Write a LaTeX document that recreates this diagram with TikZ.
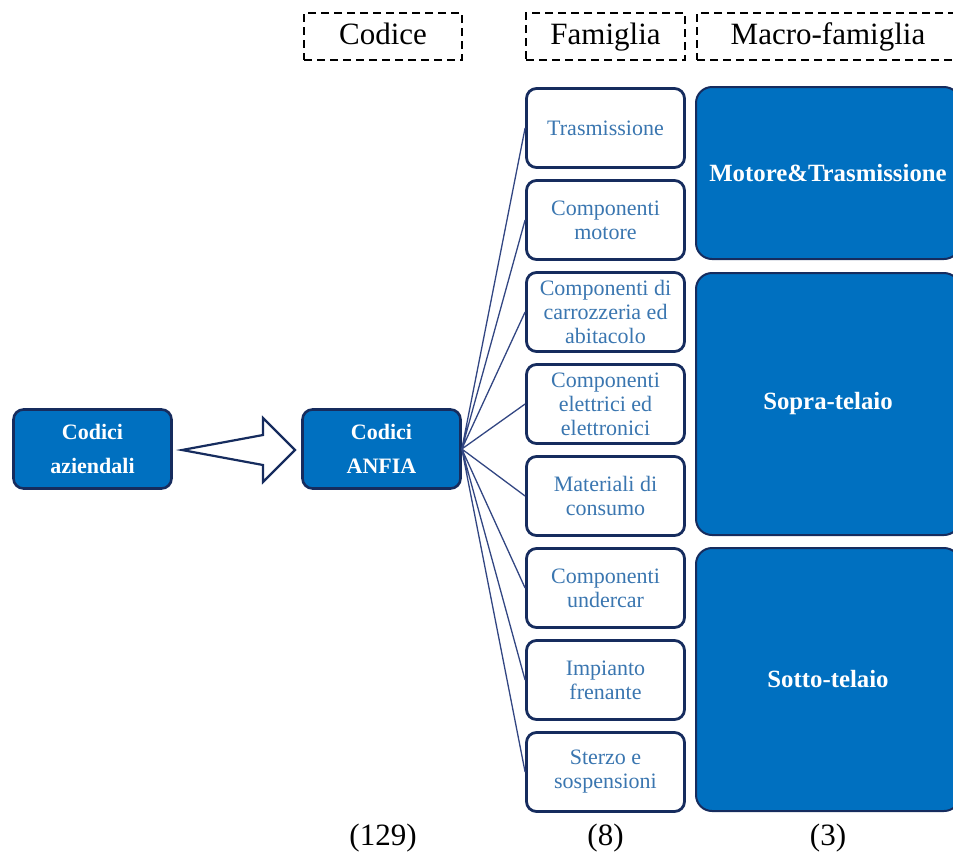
\documentclass[tikz,border=0pt]{standalone}
\usepackage{fontspec}
\setmainfont{Liberation Serif}
\usetikzlibrary{chains,positioning}
\definecolor{anfiablue}{RGB}{0,112,192}
\definecolor{anfianavy}{RGB}{22,44,94}
\definecolor{famtext}{RGB}{58,118,176}
\definecolor{anfialink}{RGB}{50,70,130}
\tikzset{
  famiglia/.style={
    rectangle,
    rounded corners=5pt,
    fill=white,
    draw=anfianavy, line width=1.4pt,
    text=famtext,
    font=\fontsize{11}{12}\selectfont,
    align=center,
    minimum width=79pt,
    minimum height=39.5pt,
    inner sep=1pt,
    on chain},
  codici/.style={
    rectangle,
    rounded corners=5pt,
    fill=anfiablue,
    draw=anfianavy, line width=1.3pt,
    text=white,
    font=\fontsize{11}{17}\selectfont\bfseries,
    align=center,
    minimum width=79pt,
    minimum height=39.5pt},
  macro/.style={
    rectangle,
    rounded corners=8pt,
    fill=anfiablue,
    draw=anfianavy, line width=1pt,
    text=white,
    font=\fontsize{12.4}{14}\selectfont\bfseries,
    minimum width=132pt},
  titolo/.style={
    rectangle,
    draw=black, line width=1pt,
    dash pattern=on 4pt off 2.5pt,
    font=\fontsize{15.5}{18}\selectfont,
    text height=10.5pt, text depth=3pt,
    minimum height=23.5pt},
  conteggio/.style={font=\fontsize{15.5}{18}\selectfont},
  line/.style={draw=anfialink, line width=0.65pt},
  freccia/.style={draw=anfianavy, line width=1.1pt, fill=white, line join=miter},
}
\begin{document}
\begin{tikzpicture}[x=0.5pt, y=-0.5pt, node distance=5.1pt, start chain=going below]
     \useasboundingbox (0,0) rectangle (953,858);
     % headers
     \node[titolo, minimum width=79pt]   (Codice)   at (383,36.5)   {Codice};
     \node[titolo, minimum width=79.5pt] (Famiglia) at (605.5,36.5) {Famiglia};
     \node[titolo, minimum width=131pt]  (MacroFam) at (828,36.5)   {Macro-famiglia};
     % codes
     \node[codici] (Aziendali) at (92.5,449)  {Codici\\aziendali};
     \node[codici] (ANFIA)     at (381.5,449) {Codici\\ANFIA};
     \draw[freccia] (182,450) -- (263,435) -- (263,418) -- (295,450) -- (263,482) -- (263,465) -- cycle;
     % families
     \node[famiglia] (Trasmissione) at (605.5,128) {Trasmissione};
     \node[famiglia] (CompMotore)   {Componenti\\motore};
     \node[famiglia] (Carrozzeria)  {Componenti di\\carrozzeria ed\\abitacolo};
     \node[famiglia] (Elettrici)    {Componenti\\elettrici ed\\elettronici};
     \node[famiglia] (Consumo)      {Materiali di\\consumo};
     \node[famiglia] (Undercar)     {Componenti\\undercar};
     \node[famiglia] (Frenante)     {Impianto\\frenante};
     \node[famiglia] (Sterzo)       {Sterzo e\\sospensioni};
     \path[line] (ANFIA.east) -- (Trasmissione.west)
                 (ANFIA.east) -- (CompMotore.west)
                 (ANFIA.east) -- (Carrozzeria.west)
                 (ANFIA.east) -- (Elettrici.west)
                 (ANFIA.east) -- (Consumo.west)
                 (ANFIA.east) -- (Undercar.west)
                 (ANFIA.east) -- (Frenante.west)
                 (ANFIA.east) -- (Sterzo.west);
     % macro-families
     \node[macro, minimum height=86pt]    (MotoreTrasm) at (828,173)   {Motore\&Trasmissione};
     \node[macro, minimum height=131pt]   (SopraTelaio) at (828,404)   {Sopra-telaio};
     \node[macro, minimum height=131.5pt] (SottoTelaio) at (828,679.5) {Sotto-telaio};
     % counts
     \node[conteggio] (NumCodici)   at (383,838)   {(129)};
     \node[conteggio] (NumFamiglie) at (605.5,838) {(8)};
     \node[conteggio] (NumMacro)    at (828,838)   {(3)};
\end{tikzpicture}
\end{document}
